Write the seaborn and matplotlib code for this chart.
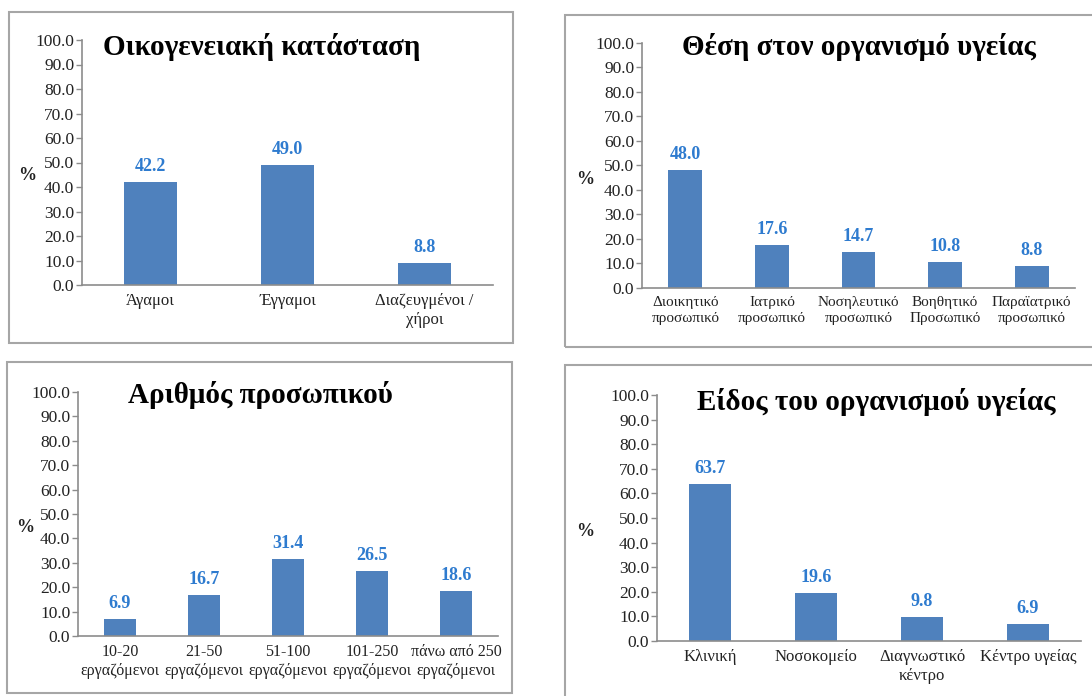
import matplotlib
matplotlib.use("Agg")
import matplotlib.pyplot as plt
import seaborn as sns
import pandas as pd
from matplotlib.patches import Rectangle

# Survey results (% of respondents)
marital_labels = ["Άγαμοι", "Έγγαμοι", "Διαζευγμένοι /\nχήροι"]
marital_values = [42.2, 49.0, 8.8]

position_labels = ["Διοικητικό\nπροσωπικό", "Ιατρικό\nπροσωπικό", "Νοσηλευτικό\nπροσωπικό",
                   "Βοηθητικό\nΠροσωπικό", "Παραϊατρικό\nπροσωπικό"]
position_values = [48.0, 17.6, 14.7, 10.8, 8.8]

staff_labels = ["10-20\nεργαζόμενοι", "21-50\nεργαζόμενοι", "51-100\nεργαζόμενοι",
                "101-250\nεργαζόμενοι", "πάνω από 250\nεργαζόμενοι"]
staff_values = [6.9, 16.7, 31.4, 26.5, 18.6]

org_labels = ["Κλινική", "Νοσοκομείο", "Διαγνωστικό\nκέντρο", "Κέντρο υγείας"]
org_values = [63.7, 19.6, 9.8, 6.9]

titles = ["Οικογενειακή κατάσταση", "Θέση στον οργανισμό υγείας",
          "Αριθμός προσωπικού", "Είδος του οργανισμού υγείας"]
y_ticks = [0, 10, 20, 30, 40, 50, 60, 70, 80, 90, 100]

sns.set_style("white")
plt.rcParams["font.family"] = ["Liberation Serif", "DejaVu Serif"]

W, H = 1092, 696
fig = plt.figure(figsize=(W / 100, H / 100), dpi=100)
fig.patch.set_facecolor("white")

BAR = "#4F81BD"
VAL = "#2E7BCF"
SPINE = "#8C8C8C"


def fx(px):
    return px / W


def fy(py):
    return 1 - py / H


panels = [
    # axes box (left, right, top, bottom) in px, frame box, title centre/baseline, % position, xtick size
    dict(labels=marital_labels, values=marital_values, ax=(82, 493, 40, 285),
         frame=(9, 513, 12, 343), title=(262, 55), pct=(27, 175), xfs=12),
    dict(labels=position_labels, values=position_values, ax=(642, 1075, 43, 288),
         frame=(565, 1110, 15, 347), title=(859, 55), pct=(585, 180), xfs=11),
    dict(labels=staff_labels, values=staff_values, ax=(78, 498, 392, 636),
         frame=(7, 512, 362, 693), title=(260, 403), pct=(25, 527), xfs=11.5),
    dict(labels=org_labels, values=org_values, ax=(657, 1081, 395, 641),
         frame=(565, 1110, 365, 720), title=(876, 410), pct=(585, 532), xfs=12),
]

for p, title in zip(panels, titles):
    l, r, t, b = p["ax"]
    ax = fig.add_axes([fx(l), fy(b), fx(r - l), (b - t) / H])
    df = pd.DataFrame({"cat": p["labels"], "val": p["values"]})
    sns.barplot(data=df, x="cat", y="val", ax=ax, color=BAR, saturation=1,
                width=0.39, linewidth=0)
    ax.set_xlim(-0.5, len(p["labels"]) - 0.5)
    ax.set_ylim(0, 100)
    ax.set_yticks(y_ticks)
    ax.set_yticklabels([f"{v:.1f}" for v in y_ticks], fontsize=12.5, color="#222222")
    ax.tick_params(axis="y", length=4, width=1, color=SPINE, pad=1.5, left=True)
    ax.tick_params(axis="x", length=0, pad=6)
    for lab in ax.get_xticklabels():
        lab.set_fontsize(p["xfs"])
        lab.set_color("#222222")
        lab.set_linespacing(1.25)
    ax.set_xlabel("")
    ax.set_ylabel("")
    for s in ["top", "right"]:
        ax.spines[s].set_visible(False)
    for s in ["left", "bottom"]:
        ax.spines[s].set_color(SPINE)
        ax.spines[s].set_linewidth(1.2)
    ax.bar_label(ax.containers[0], labels=[f"{v:.1f}" for v in p["values"]],
                 padding=5, fontsize=13, fontweight="bold", color=VAL)

    fl, fr, ft, fb = p["frame"]
    fig.patches.append(Rectangle((fx(fl), fy(fb)), fx(fr - fl), (fb - ft) / H,
                                 transform=fig.transFigure, fill=False,
                                 edgecolor="#A6A6A6", linewidth=1.5, zorder=0))
    tx, ty = p["title"]
    fig.text(fx(tx), fy(ty), title, ha="center", va="baseline",
             fontsize=21, fontweight="bold", color="black")
    px, py = p["pct"]
    fig.text(fx(px), fy(py), "%", ha="center", va="center",
             fontsize=13, fontweight="bold", color="#222222")

fig.savefig("out.png", dpi=100, facecolor="white")
